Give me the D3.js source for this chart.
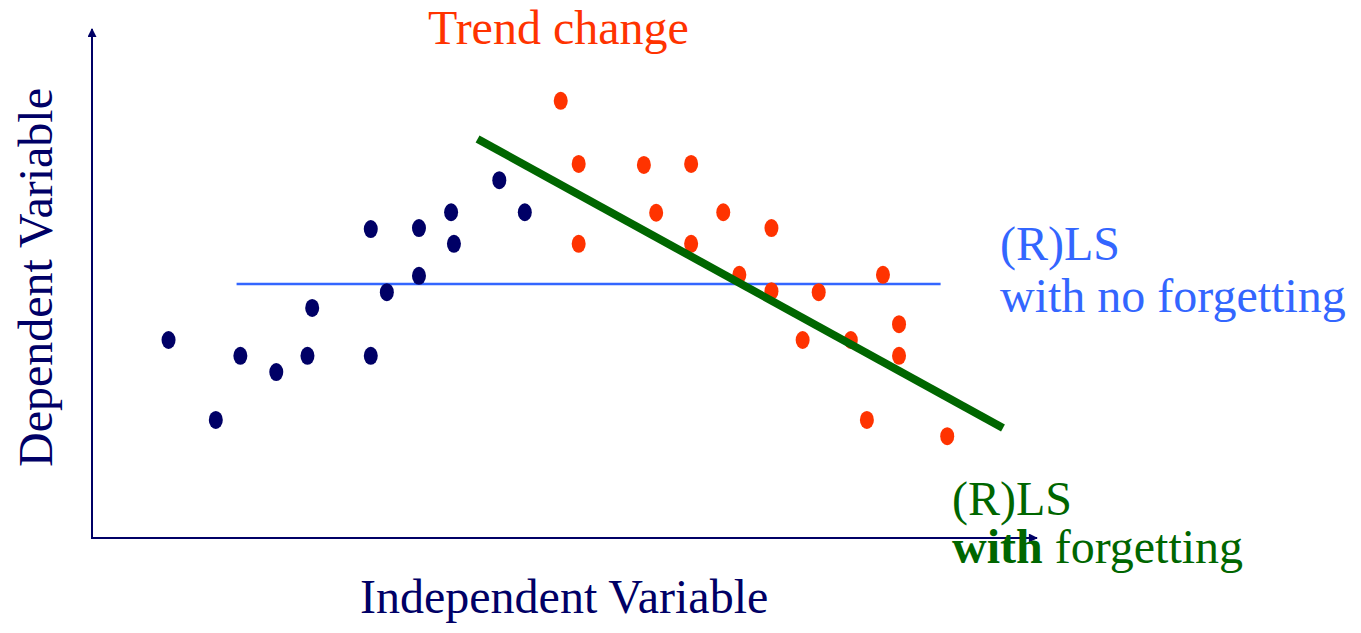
<!DOCTYPE html>
<html>
<head>
<meta charset="utf-8">
<script src="https://cdn.jsdelivr.net/npm/d3@7"></script>
<style>
  html, body { margin: 0; padding: 0; background: #fff; }
  svg { display: block; }
  text { font-family: "Liberation Serif", "Times New Roman", serif; }
</style>
</head>
<body>
<svg id="chart" width="1361" height="633"></svg>
<script>
// Observations before the trend change
const earlyX = [8.1, 13.1, 15.7, 19.5, 22.8, 23.3, 29.5, 29.5, 31.2, 34.6, 34.6, 38.0, 38.3, 43.1, 45.8];
const earlyY = [38.9, 23.2, 35.8, 32.6, 35.8, 45.2, 60.7, 35.8, 48.3, 60.9, 51.5, 64.0, 57.8, 70.3, 64.0];

// Observations after the trend change
const lateX = [49.6, 51.5, 58.4, 63.4, 51.5, 59.7, 66.8, 63.4, 71.9, 68.5, 71.9, 76.9, 83.7, 75.2, 80.3, 85.4, 85.4, 82.0, 90.5];
const lateY = [85.9, 73.5, 73.3, 73.5, 57.8, 63.9, 64.0, 57.8, 60.9, 51.7, 48.5, 48.3, 51.7, 38.9, 38.9, 42.0, 35.8, 23.2, 20.0];

// Fitted lines: [x0, y0, x1, y1]
const fitNoForgetting = [15.3, 49.9, 89.8, 49.9];
const fitForgetting = [40.8, 78.4, 96.4, 21.6];

const svg = d3.select("#chart");

const x = d3.scaleLinear().domain([0, 100]).range([92, 1037]);
const y = d3.scaleLinear().domain([0, 100]).range([538, 29]);

const navy = "#000066";

// Arrow heads for the axes
const defs = svg.append("defs");
defs.append("marker")
  .attr("id", "arrow")
  .attr("viewBox", "0 0 10 10")
  .attr("refX", 9).attr("refY", 5)
  .attr("markerWidth", 5).attr("markerHeight", 4.5)
  .attr("markerUnits", "strokeWidth")
  .attr("orient", "auto")
  .append("path")
  .attr("d", "M0,0 L10,5 L0,10 Z")
  .attr("fill", navy);

// Axes
svg.append("line")
  .attr("x1", x(0)).attr("y1", y(0) + 1)
  .attr("x2", x(0)).attr("y2", y(100))
  .attr("stroke", navy).attr("stroke-width", 2)
  .attr("marker-end", "url(#arrow)");
svg.append("line")
  .attr("x1", x(0) - 1).attr("y1", y(0))
  .attr("x2", x(100)).attr("y2", y(0))
  .attr("stroke", navy).attr("stroke-width", 2)
  .attr("marker-end", "url(#arrow)");

// Least squares without forgetting
svg.append("line")
  .attr("x1", x(fitNoForgetting[0])).attr("y1", y(fitNoForgetting[1]))
  .attr("x2", x(fitNoForgetting[2])).attr("y2", y(fitNoForgetting[3]))
  .attr("stroke", "#3366ff").attr("stroke-width", 2.5);

// Points
const dot = (xs, ys, color) => {
  svg.append("g").selectAll("ellipse")
    .data(xs.map((v, i) => [v, ys[i]]))
    .join("ellipse")
    .attr("cx", d => x(d[0]))
    .attr("cy", d => y(d[1]))
    .attr("rx", 7).attr("ry", 9)
    .attr("fill", color);
};
dot(earlyX, earlyY, navy);
dot(lateX, lateY, "#ff3300");

// Least squares with forgetting
svg.append("line")
  .attr("x1", x(fitForgetting[0])).attr("y1", y(fitForgetting[1]))
  .attr("x2", x(fitForgetting[2])).attr("y2", y(fitForgetting[3]))
  .attr("stroke", "#006600").attr("stroke-width", 8);

// Labels
const fs = 48;
svg.append("text")
  .attr("x", 428).attr("y", 44)
  .attr("font-size", fs).attr("fill", "#ff3300")
  .text("Trend change");

svg.append("text")
  .attr("x", 1000).attr("y", 260)
  .attr("font-size", fs).attr("fill", "#3366ff")
  .text("(R)LS");
svg.append("text")
  .attr("x", 1000).attr("y", 312)
  .attr("font-size", fs).attr("fill", "#3366ff")
  .text("with no forgetting");

svg.append("text")
  .attr("x", 952).attr("y", 515)
  .attr("font-size", fs).attr("fill", "#006600")
  .text("(R)LS");
const t2 = svg.append("text")
  .attr("x", 952).attr("y", 563)
  .attr("font-size", fs).attr("fill", "#006600");
t2.append("tspan").attr("font-weight", "bold").text("with");
t2.append("tspan").text(" forgetting");

svg.append("text")
  .attr("x", 360).attr("y", 613)
  .attr("font-size", fs).attr("fill", navy)
  .text("Independent Variable");

svg.append("text")
  .attr("transform", "translate(52,467) rotate(-90)")
  .attr("font-size", fs).attr("fill", navy)
  .text("Dependent Variable");
</script>
</body>
</html>
